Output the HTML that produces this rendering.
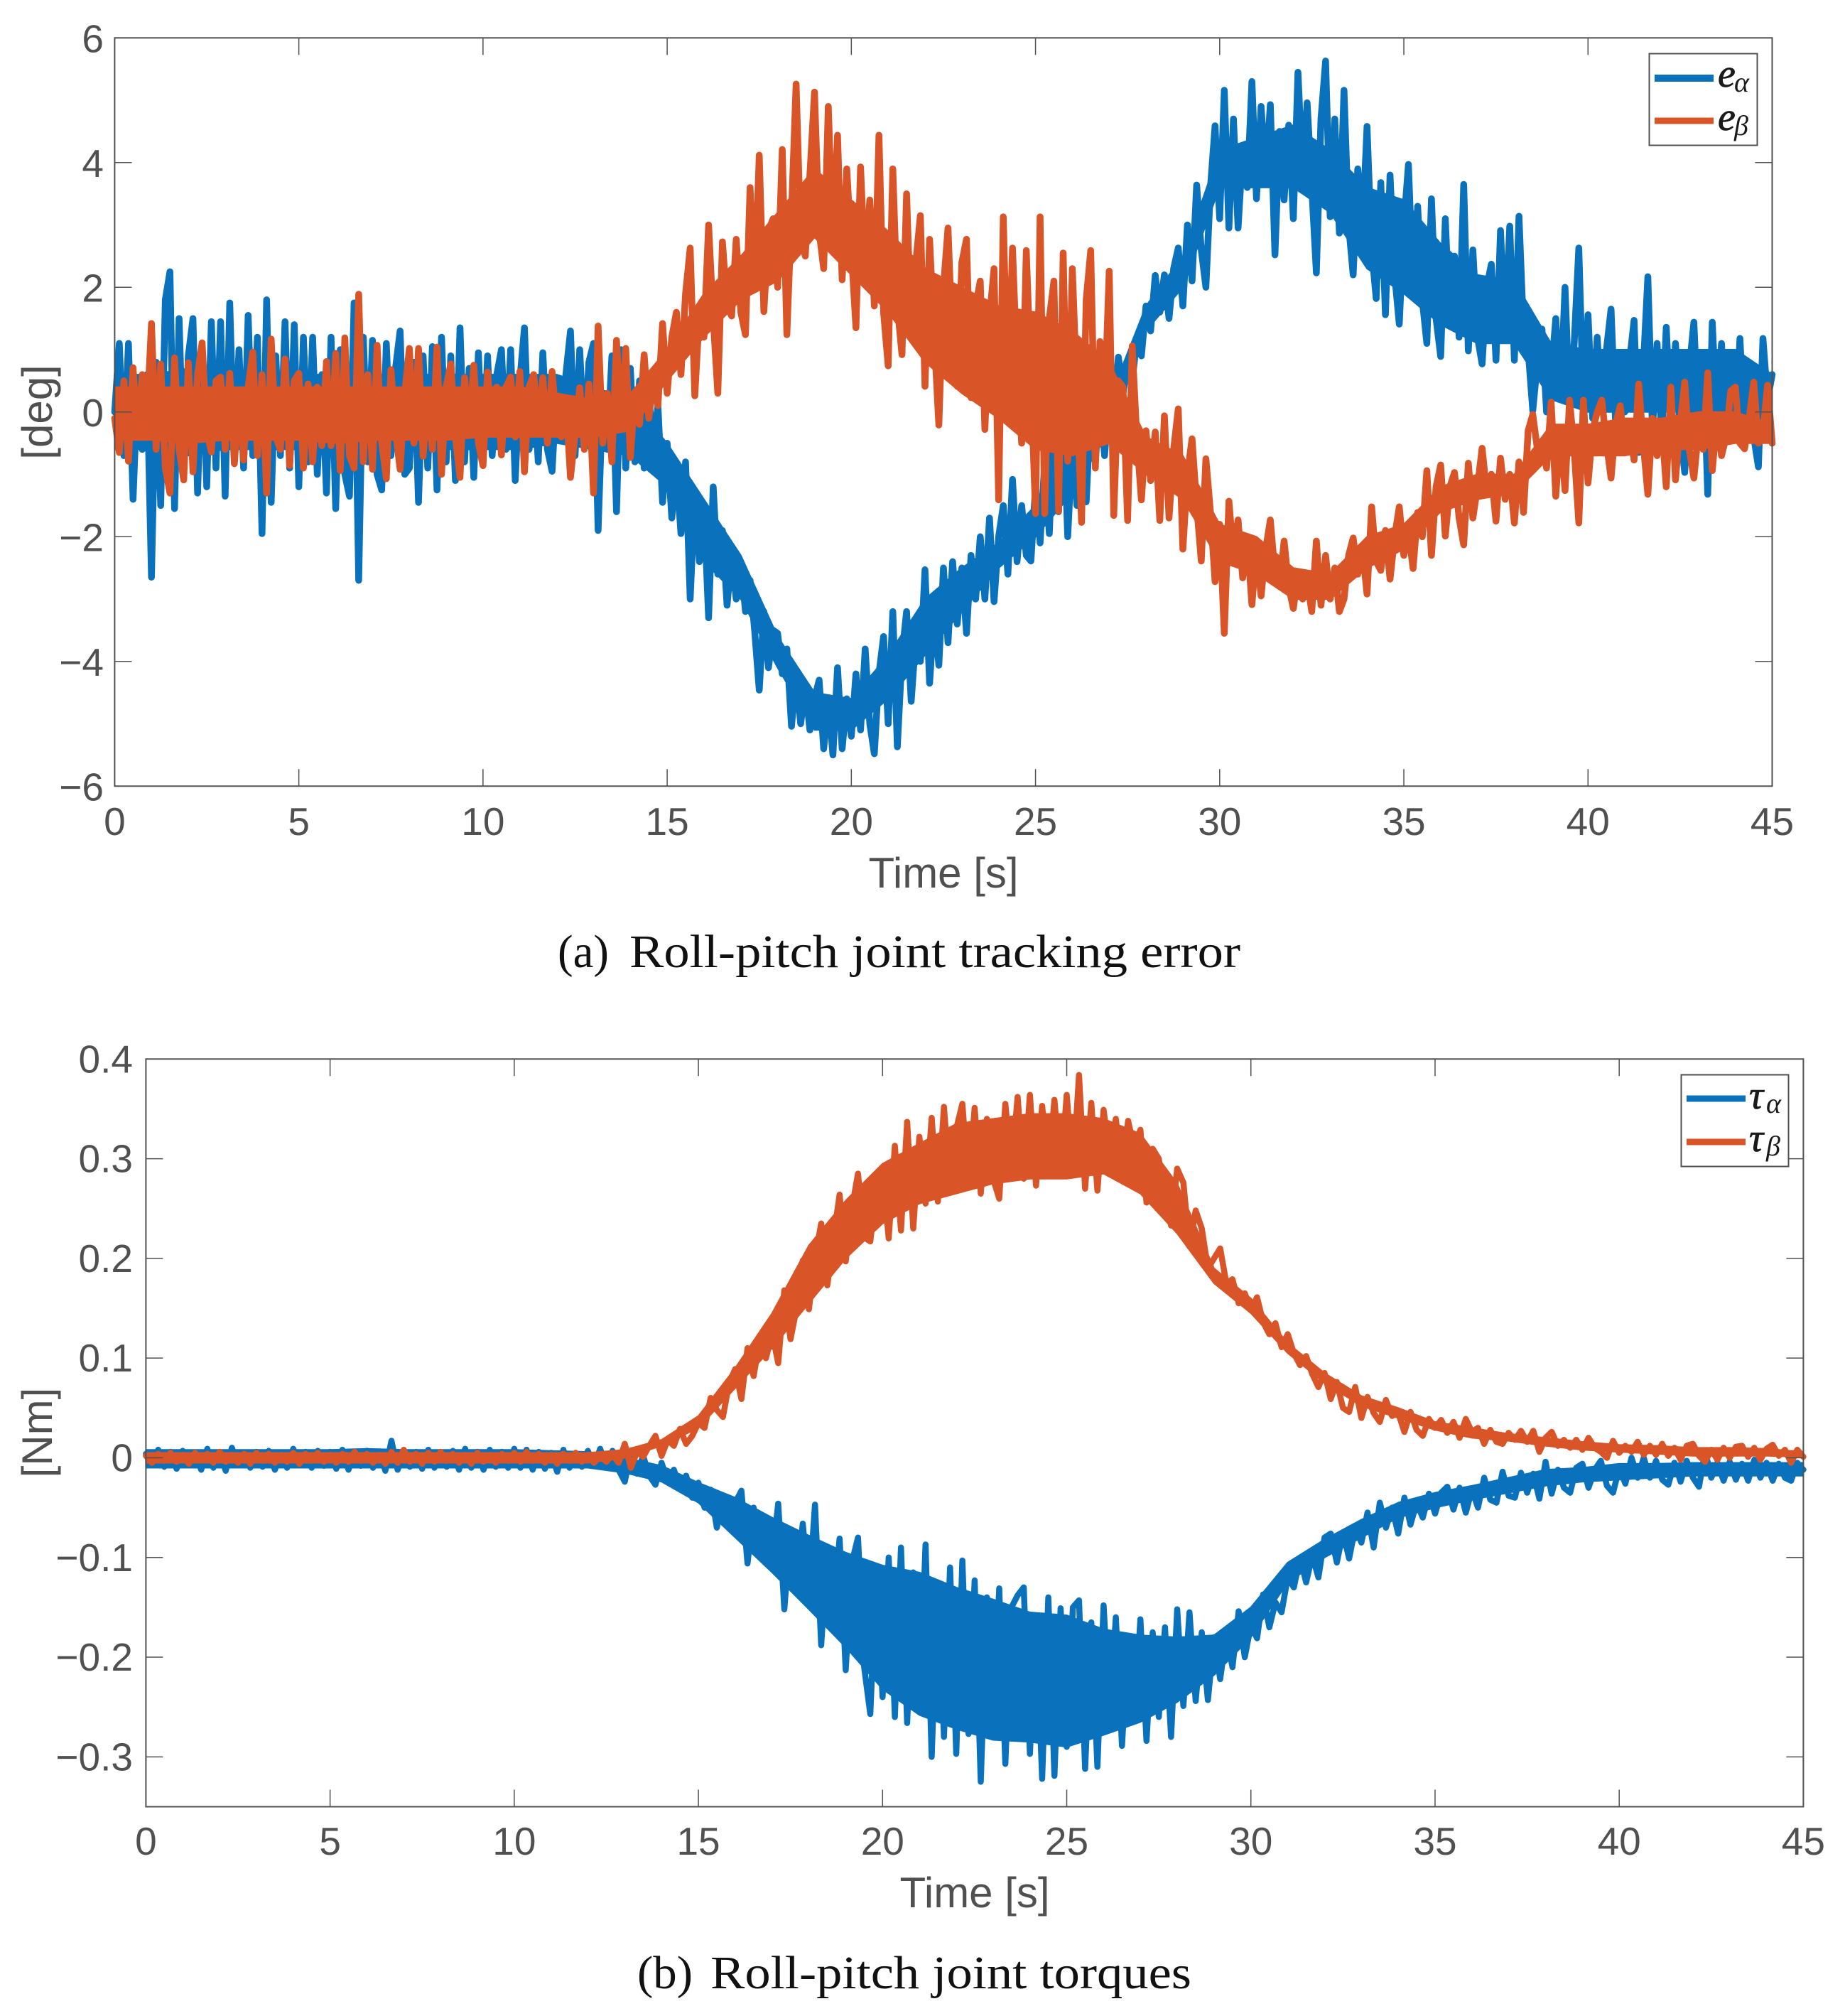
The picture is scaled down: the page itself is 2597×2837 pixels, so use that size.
<!DOCTYPE html>
<html lang="en">
<head>
<meta charset="utf-8">
<title>Roll-pitch joint tracking error and torques</title>
<style>
html,body{margin:0;padding:0;background:#fff;}
#figure{display:block;width:2597px;height:2837px;}
text{font-family:"Liberation Sans",sans-serif;}
.tick{font-size:55px;fill:#505050;}
.axis-title{font-size:60px;fill:#505050;}
.caption{font-family:"Liberation Serif",serif;font-size:66px;fill:#111;}
.legend-main{font-family:"Liberation Serif",serif;font-style:italic;font-size:56px;fill:#1a1a1a;stroke:#1a1a1a;stroke-width:.8px;}
.legend-sub{font-family:"Liberation Serif",serif;font-style:italic;font-size:40px;fill:#1a1a1a;}
</style>
</head>
<body>
<svg id="figure" xmlns="http://www.w3.org/2000/svg" width="2597" height="2837" viewBox="0 0 2597 2837">
  <rect x="0" y="0" width="2597" height="2837" fill="#fff"/>
  <g id="panelA"></g>
  <g id="panelB"></g>

  <text class="axis-title" x="1328" y="1249" text-anchor="middle">Time [s]</text>
  <text class="axis-title" transform="translate(73,580) rotate(-90)" text-anchor="middle">[deg]</text>
  <text class="caption" x="785" y="1361" textLength="72" lengthAdjust="spacingAndGlyphs">(a)</text>
  <text class="caption" x="886" y="1361" textLength="860" lengthAdjust="spacingAndGlyphs">Roll-pitch joint tracking error</text>

  <text class="axis-title" x="1372" y="2684" text-anchor="middle">Time [s]</text>
  <text class="axis-title" transform="translate(73,2016) rotate(-90)" text-anchor="middle">[Nm]</text>
  <text class="caption" x="897" y="2798" textLength="78" lengthAdjust="spacingAndGlyphs">(b)</text>
  <text class="caption" x="1000" y="2798" textLength="677" lengthAdjust="spacingAndGlyphs">Roll-pitch joint torques</text>

  <g>
    <rect x="2321.5" y="75.5" width="152" height="129" fill="#fff" stroke="#505050" stroke-width="2"/>
    <line x1="2329" x2="2412" y1="110" y2="110" stroke="#0A72BC" stroke-width="10"/>
    <line x1="2329" x2="2412" y1="170" y2="170" stroke="#D95427" stroke-width="9"/>
    <text class="legend-main" x="2418" y="122">e</text>
    <text class="legend-sub" x="2441" y="129">α</text>
    <text class="legend-main" x="2418" y="183">e</text>
    <text class="legend-sub" x="2441" y="190">β</text>
  </g>
  <g>
    <rect x="2366.5" y="1512.5" width="151" height="129" fill="#fff" stroke="#505050" stroke-width="2"/>
    <line x1="2374" x2="2457" y1="1546" y2="1546" stroke="#0A72BC" stroke-width="9"/>
    <line x1="2374" x2="2457" y1="1607" y2="1607" stroke="#D95427" stroke-width="9"/>
    <text class="legend-main" x="2462" y="1560">τ</text>
    <text class="legend-sub" x="2486" y="1566">α</text>
    <text class="legend-main" x="2462" y="1620">τ</text>
    <text class="legend-sub" x="2486" y="1626">β</text>
  </g>
</svg>
<script>
// ---- Chart data ----
const timeTicks = [0,5,10,15,20,25,30,35,40,45];
const timeTickLabels = ["0","5","10","15","20","25","30","35","40","45"];
const errorTicks = [-6,-4,-2,0,2,4,6];
const errorTickLabels = ["−6","−4","−2","0","2","4","6"];
const torqueTicks = [-0.3,-0.2,-0.1,0,0.1,0.2,0.3,0.4];
const torqueTickLabels = ["−0.3","−0.2","−0.1","0","0.1","0.2","0.3","0.4"];

// Spikes of each trace (evenly spaced over 0-45 s)
const errorAlpha = [
0,1.1,-.7,1.1,-1.4,.5,-.6,.6,-2.65,.8,-1.5,1.8,2.25,-1.55,1.5,-1.0,.9,1.5,-1.3,1.0,-1.2,1.45,-.9,1.45,-1.35,1.75,-.8,1.0,-.9,1.55,-.7,1.2,-1.95,1.8,-1.45,.9,-.7,1.45,-.9,1.4,
-1.2,1.2,-.8,1.2,-1.0,.6,-1.3,1.2,-1.55,1.0,-1.0,-1.35,1.75,-2.7,1.2,-.8,1.15,-1.0,-1.25,1.1,-.7,.7,1.3,-1.0,-.9,.8,-1.45,.9,-.9,1.05,-1.25,1.2,-.8,.9,-1.1,1.35,-.8,.7,-1.05,.95,
-.8,.9,-.7,.6,1.0,-.6,1.0,-1.1,.5,1.35,-.6,.5,-.8,.95,-.6,-.95,.4,-.4,.6,1.3,-.7,1.0,-.5,.8,1.1,-1.9,.3,-.6,.9,-1.6,1.0,-.9,.7,-.8,.5,-.9,.3,-.6,.1,-1.45,
-.5,-1.7,-.9,-1.95,-.8,-3.0,-1.3,-2.4,-1.5,-3.3,-1.2,-2.6,-1.9,-3.1,-2.3,-3.0,-2.4,-3.2,-2.7,-3.5,-4.46,-3.2,-4.1,-3.5,-3.55,-4.2,-3.8,-5.04,-4.2,-5.0,-4.4,-5.1,-4.6,-4.3,-5.4,-4.6,-5.5,-4.1,-5.4,-4.6,
-5.2,-4.2,-5.1,-3.8,-5.0,-5.48,-4.2,-3.6,-5.0,-3.2,-5.37,-3.9,-3.2,-4.64,-3.6,-4.0,-2.53,-4.35,-3.2,-4.06,-2.5,-3.7,-2.4,-3.4,-2.5,-3.55,-2.3,-3.0,-2.0,-3.0,-1.7,-3.04,-2.0,-1.5,-2.6,-1.08,-2.4,-1.5,-2.3,-2.39,
-1.2,-2.1,-.8,-1.95,-.07,-1.6,.1,-2.0,-.5,-1.5,-.4,-1.44,.1,-.8,.2,-.7,.3,-.1,.88,.3,.8,.5,1.17,.9,1.7,1.3,2.19,1.6,2.2,1.5,2.3,2.63,1.7,3.0,2.1,3.64,2.6,2.0,3.6,4.59,
3.1,5.16,2.95,4.7,2.95,4.2,3.6,5.3,3.42,4.9,3.8,4.93,2.52,4.5,3.4,4.6,3.1,5.45,3.8,4.96,3.6,2.23,4.7,5.63,3.13,4.7,2.87,5.16,3.0,2.2,3.9,2.9,4.58,2.6,1.82,3.68,1.56,3.8,2.2,1.41,
3.0,3.97,2.0,3.3,1.8,1.1,3.42,1.5,.89,3.1,1.4,2.5,1.2,3.65,.98,2.6,1.2,.77,2.0,2.37,.83,2.91,1.3,2.98,.83,3.14,1.3,1.0,.02,.8,1.33,0,.6,1.5,.2,2.0,.1,1.1,2.63,.1,
1.56,-.1,1.2,0,1.0,1.65,-.2,.9,0,.8,1.47,-.65,.7,2.17,-.3,1.1,-.4,1.36,-.2,1.1,-.3,-.97,.7,1.44,-.3,.9,-1.32,1.44,-.2,1.1,-.4,.9,-.4,1.18,-.3,.8,-.4,-.88,1.18,.2,
.6
];
const errorBeta = [
-.1,-.65,.5,-.79,.71,-.4,.6,-.1,1.42,-.6,.77,-.9,-1.3,.87,-.6,-1.09,.79,-.96,.6,1.11,-.3,-.64,.5,.56,-.6,.62,-.83,.3,-.77,.4,.96,-.7,.6,-1.3,1.17,-.4,-.6,.85,-.86,.5,
.62,-.9,.45,-.8,.4,-.54,.81,-.54,.94,-.94,1.19,-.7,-.9,1.89,-.8,.6,-.92,1.07,-.5,-1.07,.68,-.3,-.92,.3,1.02,-.5,1.02,-.71,.3,-.6,1.04,-1.0,.4,.77,-.4,-1.05,.55,-.3,.75,-.5,
-.86,.64,-.3,.4,-.69,.4,.56,-.4,.65,-.96,.4,.6,-.2,.55,-.5,.65,-.2,-.4,.18,-1.05,-.35,.39,-.6,.45,-1.3,1.38,-.5,.3,-.8,1.15,-.2,1.02,-.73,.3,-.2,.92,-.1,.5,.1,1.42,
.3,1.2,1.6,.6,1.9,2.63,.26,1.6,1.2,3.0,1.5,.3,2.73,1.7,1.54,2.77,1.6,1.24,3.6,2.0,4.12,1.61,2.9,3.1,2.0,4.21,1.24,3.2,5.26,2.8,2.5,3.8,5.13,2.9,2.3,4.9,2.7,4.44,2.12,3.9,
2.6,1.35,3.93,2.2,3.4,1.7,4.44,1.6,.74,3.9,1.7,.92,3.5,1.28,2.4,3.15,.41,2.77,1.2,-.21,2.0,2.95,1.0,.41,2.4,2.77,.23,1.7,2.1,-.28,1.5,2.3,-1.41,3.13,.19,2.63,.7,-.5,2.59,.5,
-1.63,3.13,-1.63,1.5,2.1,-1.59,2.55,-.79,2.3,.3,-1.77,1.8,2.59,-.9,1.13,.1,2.26,-1.66,.5,.4,-1.74,1.06,-.4,-1.41,-.3,-1.1,-.32,-1.74,-.06,-1.7,-.6,.05,-2.2,-1.0,-.43,-1.5,-2.39,-.75,-1.6,-2.72,
-1.8,-3.55,-1.43,-2.3,-1.73,-2.66,-2.07,-3.09,-2.2,-2.95,-2.2,-1.73,-2.6,-2.8,-2.07,-2.8,-3.15,-2.6,-3.0,-2.7,-3.2,-2.07,-3.1,-2.3,-3.0,-2.5,-3.2,-3.0,-2.3,-2.02,-2.6,-2.2,-2.92,-1.52,-2.4,-2.54,-1.9,-2.68,-2.0,-1.52,
-2.3,-1.9,-2.51,-1.61,-2.0,-.94,-2.3,-1.2,-.85,-1.99,-1.2,-.97,-1.7,-2.13,-.82,-1.7,-1.2,-.58,-1.3,-1.0,-1.75,-.74,-1.4,-1.0,-1.78,-.8,-1.61,-.3,-.04,-.6,-.5,-.9,.16,-1.35,-.3,-1.26,.19,-.6,-1.78,.19,
-1.14,-.3,0,.19,-.5,-1.06,-.2,.1,-.6,-.3,-.77,.45,-.5,-1.32,-.1,-.7,-.2,-1.2,.4,-1.09,-.2,.48,-.6,-1.06,-.3,-.6,.63,-.94,-.1,-.7,-.4,.34,.4,-.5,-.59,-.1,.48,-.5,-.3,.43,
-.5
];
const torqueAlpha = [
.004,-.007,.008,-.009,.006,-.011,.007,-.006,.005,-.012,.009,-.01,.006,-.013,.01,-.006,.005,-.01,.006,-.009,.007,-.012,.005,-.01,.009,-.007,.006,-.01,.007,-.008,
.006,-.011,.008,-.012,.005,-.008,.007,-.01,.006,-.013,.017,-.012,.005,-.009,.006,-.011,.008,-.01,.006,-.009,.007,-.012,.009,-.01,.006,-.012,.008,-.009,.006,-.01,
.009,-.01,.008,-.012,.006,-.011,.005,-.014,.008,-.01,.005,-.009,.007,-.008,.009,-.01,.007,-.012,-.024,.006,-.016,.002,-.018,-.027,-.005,-.024,-.012,-.03,-.018,-.04,
-.025,-.05,-.032,-.07,-.04,-.068,-.045,-.033,-.106,-.05,-.09,-.065,-.1,-.046,-.152,-.072,-.125,-.066,-.135,-.047,-.188,-.09,-.15,-.081,-.213,-.105,-.08,-.21,-.257,-.115,
-.24,-.1,-.26,-.09,-.266,-.115,-.25,-.087,-.3,-.125,-.28,-.11,-.297,-.103,-.277,-.123,-.325,-.14,-.27,-.131,-.307,-.15,-.138,-.13,-.297,-.16,-.322,-.14,-.319,-.151,
-.29,-.15,-.143,-.312,-.165,-.31,-.148,-.26,-.16,-.289,-.181,-.26,-.162,-.284,-.175,-.26,-.17,-.28,-.152,-.249,-.155,-.244,-.175,-.243,-.18,-.222,-.177,-.21,-.154,-.2,
-.168,-.181,-.137,-.17,-.145,-.155,-.12,-.13,-.1,-.125,-.098,-.12,-.08,-.076,-.105,-.075,-.101,-.07,-.085,-.055,-.09,-.045,-.07,-.05,-.076,-.04,-.067,-.045,-.06,-.036,
-.056,-.035,-.029,-.052,-.03,-.055,-.032,-.05,-.02,-.042,-.045,-.014,-.038,-.04,-.015,-.035,-.016,-.041,-.004,-.036,-.012,-.03,-.035,-.01,-.006,-.03,-.012,-.003,-.028,-.035,
-.01,-.026,0,-.02,0,-.02,-.003,-.022,-.027,-.005,-.024,-.003,-.02,-.029,.007,-.02,-.005,-.023,-.004,-.022,-.006,-.023,-.002,-.02,-.005,-.023,-.006,-.02,-.023,-.005,
-.012
];
const torqueBeta = [
.002,-.005,.004,-.003,.005,-.004,.003,-.006,.005,-.002,.004,-.005,.006,-.004,.003,-.005,.004,-.006,.005,-.003,.004,-.005,.003,-.004,.005,-.006,.004,-.003,.005,-.004,
.003,-.005,.004,-.004,.006,-.003,.004,-.005,.003,-.006,.006,-.005,.008,-.004,.004,-.006,.005,-.004,.006,-.003,.004,-.005,.003,-.006,.005,-.004,.003,-.005,.004,-.003,
.005,-.004,.006,-.003,.004,-.005,.003,-.006,.004,-.003,.005,-.004,.003,-.005,.002,-.004,.003,-.005,.014,-.01,.006,.001,.012,.022,.002,.018,.012,.029,.014,.022,
.035,.03,.06,.048,.041,.075,.089,.059,.11,.082,.118,.1,.125,.095,.168,.119,.15,.198,.149,.2,.235,.173,.22,.264,.197,.25,.285,.221,.217,.27,
.29,.22,.313,.228,.337,.23,.322,.255,.341,.257,.352,.27,.33,.355,.274,.351,.265,.34,.28,.26,.355,.29,.362,.28,.364,.273,.353,.29,.359,.284,
.364,.285,.384,.27,.356,.268,.349,.3,.34,.283,.338,.31,.329,.256,.31,.3,.26,.233,.29,.276,.212,.248,.23,.19,.2,.21,.175,.179,.155,.165,
.148,.161,.136,.124,.135,.111,.124,.105,.093,.102,.084,.071,.085,.059,.076,.05,.046,.071,.04,.061,.045,.036,.058,.042,.045,.026,.046,.028,.022,.039,
.03,.038,.025,.036,.02,.039,.026,.03,.014,.028,.016,.014,.025,.018,.027,.016,.027,.006,.02,.026,.012,.018,.01,.018,.008,.02,.01,.006,0,.017,
.005,.012,.006,.016,.003,.012,.003,.014,.002,.01,-.002,.012,.014,.002,-.004,.008,-.002,.01,0,.011,.012,.001,.01,-.002,.009,.013,.002,.008,-.005,.008,
.001
];

// Solid core of each noisy trace, read once per second (0-45 s)
const errorAlphaCoreTop = [.6,.6,.7,.6,.6,.6,.6,.6,.6,.6,.6,.6,.6,.4,.2,-.5,-1.4,-2.3,-3.6,-4.5,-4.6,-3.9,-3.0,-2.5,-2.1,-1.5,-.5,.2,1.7,2.5,4.2,4.4,4.6,4.2,3.6,3.4,2.7,2.2,2.1,1.1,1.0,1.0,1.0,1.0,1.0,.6];
const errorAlphaCoreBottom = [-.6,-.6,-.7,-.6,-.6,-.6,-.7,-.6,-.6,-.6,-.6,-.6,-.5,-.6,-.7,-1.2,-2.4,-3.0,-4.1,-5.1,-5.1,-4.6,-3.9,-3.2,-2.5,-2.0,-1.3,-.3,1.3,2.0,3.6,3.6,3.6,3.2,2.3,1.9,1.4,1.1,1.1,.2,0,0,0,0,0,.2];
const errorBetaCoreTop = [.4,.4,.4,.4,.4,.4,.4,.4,.4,.4,.4,.4,.3,.2,.3,1.0,1.9,2.5,3.2,3.9,3.4,2.9,2.3,2.0,1.7,1.6,1.3,.8,-.4,-.7,-1.8,-2.0,-2.5,-2.6,-2.0,-1.8,-1.2,-1.0,-1.0,-.2,-.2,-.1,-.1,0,0,-.2];
const errorBetaCoreBottom = [-.45,-.45,-.5,-.45,-.45,-.45,-.5,-.45,-.45,-.45,-.4,-.4,-.4,-.4,-.3,.5,1.2,1.8,2.1,2.8,2.2,1.6,.8,.3,-.1,-.6,-.7,-.5,-1.0,-1.4,-2.4,-2.6,-3.0,-3.0,-2.5,-2.2,-1.6,-1.4,-1.3,-.7,-.7,-.7,-.6,-.6,-.5,-.5];
const torqueAlphaCoreTop = [.008,.008,.008,.008,.008,.008,.009,.008,.008,.008,.008,.007,.006,0,-.008,-.025,-.04,-.06,-.078,-.095,-.108,-.115,-.13,-.142,-.155,-.158,-.172,-.178,-.18,-.178,-.15,-.105,-.082,-.062,-.045,-.035,-.028,-.02,-.012,-.01,-.006,-.006,-.005,-.005,-.005,-.005];
const torqueAlphaCoreBottom = [-.01,-.01,-.01,-.01,-.01,-.01,-.01,-.01,-.01,-.01,-.01,-.01,-.01,-.015,-.024,-.045,-.08,-.115,-.152,-.19,-.232,-.258,-.272,-.283,-.285,-.29,-.278,-.265,-.245,-.218,-.18,-.125,-.1,-.08,-.06,-.05,-.042,-.035,-.028,-.024,-.022,-.02,-.018,-.018,-.018,-.018];
const torqueBetaCoreTop = [.005,.005,.005,.005,.005,.005,.005,.005,.005,.005,.005,.005,.005,.008,.018,.042,.09,.145,.213,.258,.295,.315,.335,.34,.345,.345,.34,.325,.275,.19,.16,.115,.085,.062,.05,.036,.03,.024,.02,.016,.013,.012,.01,.01,.009,.006];
const torqueBetaCoreBottom = [-.005,-.005,-.005,-.005,-.005,-.005,-.005,-.005,-.005,-.005,-.005,-.005,-.005,0,.012,.03,.07,.11,.155,.2,.235,.255,.265,.275,.28,.28,.285,.265,.225,.175,.145,.105,.075,.052,.04,.028,.02,.017,.012,.008,.006,.004,.002,.002,.002,.001];
const timeSpan = 45;

// ---- Drawing ----
const SVG_NS = "http://www.w3.org/2000/svg";
const AXIS_COLOR = "#505050";
const BLUE = "#0A72BC";
const ORANGE = "#D95427";

function make(tag, parent, props){
  const el = document.createElementNS(SVG_NS, tag);
  for (const key in props) el.setAttribute(key, props[key]);
  parent.appendChild(el);
  return el;
}

function linearScale(d0, d1, r0, r1){
  return function(v){ return r0 + (v - d0) * (r1 - r0) / (d1 - d0); };
}

function drawBand(parent, top, bottom, sx, sy, color, name){
  let pts = "";
  for (let i = 0; i < top.length; i++){
    pts += sx(i * timeSpan / (top.length - 1)).toFixed(1) + "," + sy(top[i]).toFixed(1) + " ";
  }
  for (let k = bottom.length - 1; k >= 0; k--){
    pts += sx(k * timeSpan / (bottom.length - 1)).toFixed(1) + "," + sy(bottom[k]).toFixed(1) + " ";
  }
  const band = make("polygon", parent, {points: pts, fill: color, stroke: color, "stroke-width": 2, "stroke-linejoin": "round"});
  
  
}

function drawSeries(parent, values, sx, sy, color, width, name){
  const n = values.length;
  let pts = "";
  for (let i = 0; i < n; i++){
    const t = i * timeSpan / (n - 1);
    pts += sx(t).toFixed(1) + "," + sy(values[i]).toFixed(1) + " ";
  }
  const line = make("polyline", parent, {points: pts, fill: "none", stroke: color, "stroke-width": width, "stroke-linejoin": "round", "stroke-linecap": "round"});
  
  
}

function drawAxes(parent, box, sx, sy, yTicks, yLabels, opts){
  const tickLen = 24;
  for (let i = 0; i < timeTicks.length; i++){
    const x = sx(timeTicks[i]);
    if (i > 0 && i < timeTicks.length - 1){
      const t1 = make("line", parent, {x1: x, x2: x, y1: box.bottom, y2: box.bottom - tickLen, stroke: AXIS_COLOR, "stroke-width": 1.5});
      
      
      const t2 = make("line", parent, {x1: x, x2: x, y1: box.top, y2: box.top + tickLen, stroke: AXIS_COLOR, "stroke-width": 1.5});
      
      
    }
    const lab = make("text", parent, {class: "tick", x: x, y: opts.xLabelY, "text-anchor": "middle"});
    lab.textContent = timeTickLabels[i];
    
    
  }
  for (let j = 0; j < yTicks.length; j++){
    const y = sy(yTicks[j]);
    const t3 = make("line", parent, {x1: box.left, x2: box.left + tickLen, y1: y, y2: y, stroke: AXIS_COLOR, "stroke-width": 1.5});
    
    
    const t4 = make("line", parent, {x1: box.right, x2: box.right - tickLen, y1: y, y2: y, stroke: AXIS_COLOR, "stroke-width": 1.5});
    
    
    const ylab = make("text", parent, {class: "tick", x: opts.yLabelX, y: y + opts.yLabelDy, "text-anchor": "end"});
    ylab.textContent = yLabels[j];
    
    
  }
  const frame = make("rect", parent, {x: box.left, y: box.top, width: box.right - box.left, height: box.bottom - box.top, fill: "none", stroke: AXIS_COLOR, "stroke-width": 2});
  
  
}

const boxA = {left: 161.4, right: 2494.5, top: 53.3, bottom: 1106.3};
const xA = linearScale(0, 45, boxA.left, boxA.right);
const yA = linearScale(-6, 6, boxA.bottom, boxA.top);
const groupA = document.getElementById("panelA");
drawBand(groupA, errorAlphaCoreTop, errorAlphaCoreBottom, xA, yA, BLUE, "e-alpha-core-band");
drawSeries(groupA, errorAlpha, xA, yA, BLUE, 9.5, "e-alpha-line");
drawBand(groupA, errorBetaCoreTop, errorBetaCoreBottom, xA, yA, ORANGE, "e-beta-core-band");
drawSeries(groupA, errorBeta, xA, yA, ORANGE, 9.5, "e-beta-line");
drawAxes(groupA, boxA, xA, yA, errorTicks, errorTickLabels, {xLabelY: 1175, yLabelX: 146, yLabelDy: 20});

const boxB = {left: 205.4, right: 2538.4, top: 1490.3, bottom: 2542.5};
const xB = linearScale(0, 45, boxB.left, boxB.right);
const yB = linearScale(-0.35, 0.4, boxB.bottom, boxB.top);
const groupB = document.getElementById("panelB");
drawBand(groupB, torqueAlphaCoreTop, torqueAlphaCoreBottom, xB, yB, BLUE, "tau-alpha-core-band");
drawSeries(groupB, torqueAlpha, xB, yB, BLUE, 8.5, "tau-alpha-line");
drawBand(groupB, torqueBetaCoreTop, torqueBetaCoreBottom, xB, yB, ORANGE, "tau-beta-core-band");
drawSeries(groupB, torqueBeta, xB, yB, ORANGE, 8.5, "tau-beta-line");
drawAxes(groupB, boxB, xB, yB, torqueTicks, torqueTickLabels, {xLabelY: 2610, yLabelX: 187, yLabelDy: 19});
</script>
</body>
</html>
